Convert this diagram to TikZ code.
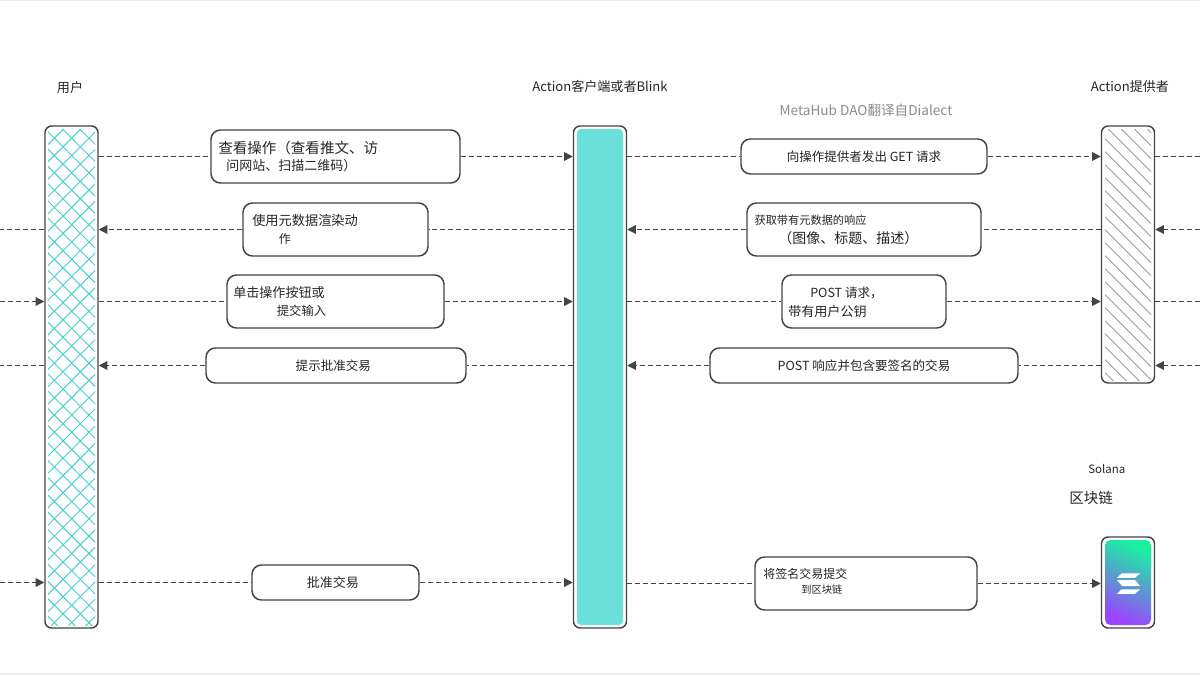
\documentclass[tikz,border=0pt]{standalone}
\usepackage{fontspec}
\setmainfont{Noto Sans CJK SC}
\usetikzlibrary{arrows.meta}
\definecolor{inkline}{HTML}{444444}
\definecolor{tealhatch}{HTML}{45D3C8}
\definecolor{tealfill}{HTML}{6BE0D8}
\definecolor{grayhatch}{HTML}{8C8C8C}
\definecolor{solgreen}{HTML}{1BF0A0}
\definecolor{solblue}{HTML}{5590F5}
\definecolor{solpurple}{HTML}{9A45FF}
\definecolor{pagebg}{HTML}{FEFEFE}
\newcommand{\fs}[1]{\fontsize{#1}{#1}\selectfont}
\tikzset{
	bar/.style 2 args={draw=inkline,line width=1.1pt,rounded corners=5pt,minimum width=#1*0.75pt,minimum height=#2*0.75pt,inner sep=0pt},
	msgbox/.style 2 args={draw=inkline,line width=1.1pt,fill=white,rounded corners=7pt,minimum width=#1*0.75pt,minimum height=#2*0.75pt,inner sep=0pt,font=\fs{9.4},text=black!85},
	flow/.style={draw=inkline,line width=1pt,dashed,dash pattern=on 3.6pt off 2.4pt},
	flowto/.style={flow,-{Triangle[length=6.5pt,width=6.5pt]}},
	txt/.style={inner sep=0pt,text=black!85,anchor=west},
	head/.style={inner sep=0pt,text=black!85,font=\fs{9.8}}
}
\begin{document}
\begin{tikzpicture}[x=0.75pt,y=-0.75pt]
	\useasboundingbox (0,0) rectangle (1200,675);
	\fill[pagebg] (0,0) rectangle (1200,675);
	\fill[black!7] (0,673) rectangle (1200,675);
	\fill[black!7] (0,0) rectangle (1200,1);
	\coordinate (edgeL) at (0,0);
	\coordinate (edgeR) at (1200,0);
	% hatch of the user bar
	\begin{scope}
		\clip (48,129) rectangle (95,625);
		\foreach \k in {-36,...,36} {
			\draw[tealhatch,line width=0.7pt] (40,642.4+\k*17.3-40) -- (110,642.4+\k*17.3-110);
			\draw[tealhatch,line width=0.7pt] (40,40+499+\k*17.3) -- (110,110+499+\k*17.3);
		}
	\end{scope}
	% hatch of the provider bar
	\begin{scope}
		\clip (1105,129) rectangle (1151,380);
		\foreach \k in {-3,...,22} {
			\draw[grayhatch,line width=0.6pt] (1100,1100-992.4+\k*13) -- (1160,1160-992.4+\k*13);
		}
	\end{scope}
	\fill[tealfill,rounded corners=3pt] (577,129) rectangle (623,625);
	\shade[rounded corners=4pt,top color=solgreen,middle color=solblue,bottom color=solpurple,shading angle=-25] (1105,540) rectangle (1151,625);
	\fill[white] (1121.7,573.4) -- (1140,573.4) -- (1135,577.8) -- (1117,577.8) -- cycle;
	\fill[white] (1117,580) -- (1135,580) -- (1140,586) -- (1122,586) -- cycle;
	\fill[white] (1121.7,589.3) -- (1140,589.3) -- (1135,593.8) -- (1117,593.8) -- cycle;

	\node[bar={53}{502}] (user) at (71.5,377) {};
	\node[bar={53}{502}] (client) at (600,377) {};
	\node[bar={53}{257}] (provider) at (1128,254.5) {};
	\node[bar={53}{91}] (solana) at (1128,582.5) {};

	\node[head] (userhead) at (70,87.5) {用户};
	\node[head] (clienthead) at (600,87) {Action客户端或者Blink};
	\node[head] (providerhead) at (1130,87) {Action提供者};
	\node[head,text=black!45,font=\fs{10.2}] (credit) at (866,110) {MetaHub DAO翻译自Dialect};
	\node[txt,font=\fs{8.6}] (solanahead) at (1088,469) {Solana};
	\node[txt,font=\fs{10.9}] (chainhead) at (1069,497.5) {区块链};

	% left column
	\node[msgbox={249}{53}] (viewbox) at (335.5,156.5) {};
	\node[msgbox={185}{53}] (renderbox) at (335.5,229.5) {};
	\node[msgbox={217}{53}] (clickbox) at (335.5,301.5) {};
	\node[msgbox={260}{35}] (promptbox) at (336,365.5) {\hspace*{-4pt}提示批准交易};
	\node[msgbox={167}{35},font=\fs{9.75}] (approvebox) at (335.5,582.5) {\hspace*{-4pt}批准交易};
	\node[txt,font=\fs{10.9}] (viewa) at (218,148) {查看操作（查看推文、访};
	\node[txt,font=\fs{9.75}] (viewb) at (226,166) {问网站、扫描二维码）};
	\node[txt,font=\fs{9.9}] (rendera) at (252,220) {使用元数据渲染动};
	\node[txt,font=\fs{9}] (renderb) at (278.5,239) {作};
	\node[txt,font=\fs{9.8}] (clicka) at (233,292.7) {单击操作按钮或};
	\node[txt,font=\fs{9.2}] (clickb) at (276.7,311) {提交输入};

	% right column
	\node[msgbox={246}{35}] (getbox) at (864,156.5) {向操作提供者发出 GET 请求};
	\node[msgbox={234}{53}] (metabox) at (864,229.5) {};
	\node[msgbox={164}{53}] (postbox) at (864,301.5) {};
	\node[msgbox={308}{35}] (signbox) at (864,365.5) {POST 响应并包含要签名的交易};
	\node[msgbox={222}{53}] (sendbox) at (866,583.5) {};
	\node[txt,font=\fs{8.4}] (metaa) at (754.3,220) {获取带有元数据的响应};
	\node[txt,font=\fs{10.5}] (metab) at (778,238) {（图像、标题、描述）};
	\node[txt,font=\fs{9.4}] (posta) at (810,293) {POST 请求，};
	\node[txt,font=\fs{9.8}] (postb) at (788,311.7) {带有用户公钥};
	\node[txt,font=\fs{9}] (senda) at (763,574) {将签名交易提交};
	\node[txt,font=\fs{7.7}] (sendb) at (801,590) {到区块链};

	% first row
	\draw[flow] (user.east |- viewbox.west)--(viewbox.west);
	\draw[flowto] (viewbox.east)--(client.west |- viewbox.east);
	\draw[flow] (client.east |- getbox.west)--(getbox.west);
	\draw[flowto] (getbox.east)--(provider.west |- getbox.east);
	\draw[flow] (provider.east |- getbox.east)--(edgeR |- getbox.east);
	% second row
	\draw[flowto] (edgeR |- metabox.east)--(provider.east |- metabox.east);
	\draw[flow] (provider.west |- metabox.east)--(metabox.east);
	\draw[flowto] (metabox.west)--(client.east |- metabox.west);
	\draw[flow] (client.west |- renderbox.east)--(renderbox.east);
	\draw[flowto] (renderbox.west)--(user.east |- renderbox.west);
	\draw[flow] (user.west |- renderbox.west)--(edgeL |- renderbox.west);
	% third row
	\draw[flowto] (edgeL |- clickbox.west)--(user.west |- clickbox.west);
	\draw[flow] (user.east |- clickbox.west)--(clickbox.west);
	\draw[flowto] (clickbox.east)--(client.west |- clickbox.east);
	\draw[flow] (client.east |- postbox.west)--(postbox.west);
	\draw[flowto] (postbox.east)--(provider.west |- postbox.east);
	\draw[flow] (provider.east |- postbox.east)--(edgeR |- postbox.east);
	% fourth row
	\draw[flowto] (edgeR |- signbox.east)--(provider.east |- signbox.east);
	\draw[flow] (provider.west |- signbox.east)--(signbox.east);
	\draw[flowto] (signbox.west)--(client.east |- signbox.west);
	\draw[flow] (client.west |- promptbox.east)--(promptbox.east);
	\draw[flowto] (promptbox.west)--(user.east |- promptbox.west);
	\draw[flow] (user.west |- promptbox.west)--(edgeL |- promptbox.west);
	% last row
	\draw[flowto] (edgeL |- approvebox.west)--(user.west |- approvebox.west);
	\draw[flow] (user.east |- approvebox.west)--(approvebox.west);
	\draw[flowto] (approvebox.east)--(client.west |- approvebox.east);
	\draw[flow] (client.east |- sendbox.west)--(sendbox.west);
	\draw[flowto] (sendbox.east)--(solana.west |- sendbox.east);
\end{tikzpicture}
\end{document}
